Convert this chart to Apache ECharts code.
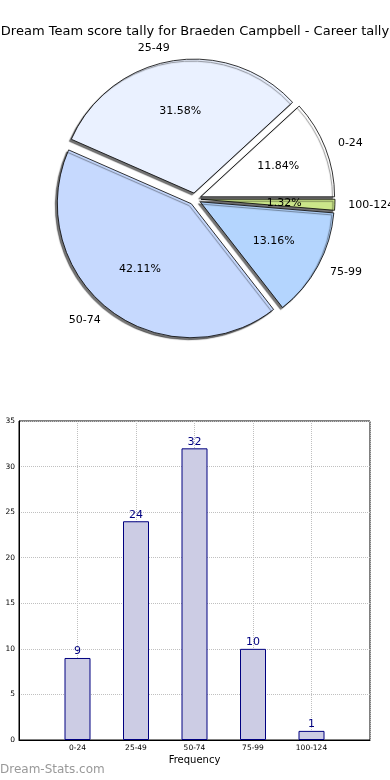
<!DOCTYPE html>
<html><head><meta charset="utf-8">
<script src="https://cdn.jsdelivr.net/npm/echarts@6/dist/echarts.min.js"></script>
<style>html,body{margin:0;padding:0;background:#fff}#c{width:390px;height:780px}</style>
</head><body><div id="c"></div>
<script>
const titleText = 'Dream Team score tally for Braeden Campbell - Career tally';
const categories = ['0-24', '25-49', '50-74', '75-99', '100-124'];
const counts = [9, 24, 32, 10, 1];
const yMin = 0, yMax = 35, yStep = 5;
const xAxisName = 'Frequency';
const watermark = 'Dream-Stats.com';
const sliceColors = ['#ffffff', '#eaf1ff', '#c6d9fe', '#b4d5fe', '#cbe68a'];

const total = counts.reduce((a, b) => a + b, 0);
const F = 'DejaVu Sans, sans-serif';
const cx = 195, cy = 199, R = 134, OFF = 6;

const mainData = categories.map((n, i) => ({
  name: n, value: counts[i], selected: true,
  itemStyle: { color: sliceColors[i] }
}));
const pctData = categories.map((n, i) => ({ name: n, value: counts[i], selected: true }));

const pieCommon = {
  type: 'pie', center: [cx, cy], startAngle: 0, clockwise: false,
  selectedMode: 'multiple', selectedOffset: OFF, animation: false,
  avoidLabelOverlap: false, emphasis: { disabled: true }
};

const chart = echarts.init(document.getElementById('c'), null, { renderer: 'canvas' });
chart.setOption({
  animation: false,
  title: { text: titleText, left: 'center', top: 20, textStyle: { fontFamily: F, fontSize: 13, fontWeight: 'normal', color: '#000' } },
  graphic: [{ type: 'text', left: 0, top: 764, style: { text: watermark, fill: '#999999', font: '12px "DejaVu Sans", sans-serif' } }],
  grid: { left: 19, top: 421, width: 351, height: 319, show: true, borderColor: '#000', borderWidth: 1 },
  xAxis: {
    type: 'value', min: 0, max: categories.length + 1, interval: 1,
    name: xAxisName, nameLocation: 'middle', nameGap: 15,
    nameTextStyle: { fontFamily: F, fontSize: 10, color: '#000' },
    axisLine: { show: true, lineStyle: { color: '#000' } },
    axisTick: { show: false },
    axisLabel: { fontFamily: F, fontSize: 7.5, color: '#000', margin: 4,
      formatter: v => categories[v - 1] || '' },
    splitLine: { show: true, lineStyle: { type: 'dotted', color: '#c0c0c0' } }
  },
  yAxis: {
    type: 'value', min: yMin, max: yMax, interval: yStep,
    axisLine: { show: true, lineStyle: { color: '#000' } },
    axisTick: { show: false },
    axisLabel: { fontFamily: F, fontSize: 7.5, color: '#000', margin: 4 },
    splitLine: { show: true, lineStyle: { type: 'dotted', color: '#c0c0c0' } }
  },
  series: [
    Object.assign({}, pieCommon, {
      radius: [0, R], data: mainData,
      label: { show: true, position: 'outside', fontFamily: F, fontSize: 11, color: '#000', formatter: '{b}', distanceToLabelLine: 0 },
      labelLine: { show: false, length: R * 0.1, length2: 0 },
      itemStyle: { borderColor: '#000', borderWidth: 0.8, shadowColor: 'rgba(0,0,0,0.55)', shadowBlur: 1, shadowOffsetX: -2, shadowOffsetY: 2 }
    }),
    Object.assign({}, pieCommon, {
      radius: [0, R * 1.2], data: pctData, silent: true, z: 5,
      itemStyle: { color: 'rgba(0,0,0,0)', borderWidth: 0 },
      labelLine: { show: false },
      label: { show: true, position: 'inside', fontFamily: F, fontSize: 11, color: '#000',
        formatter: p => (p.value / total * 100).toFixed(2) + '%' }
    }),
    {
      type: 'bar', barWidth: 26, animation: false,
      data: counts.map((v, i) => [i + 1, v]),
      itemStyle: { color: '#cccce4', borderColor: '#000080', borderWidth: 1 },
      label: { show: true, position: 'top', distance: 1, color: '#000080', fontFamily: F, fontSize: 11 }
    }
  ]
});
</script></body></html>
